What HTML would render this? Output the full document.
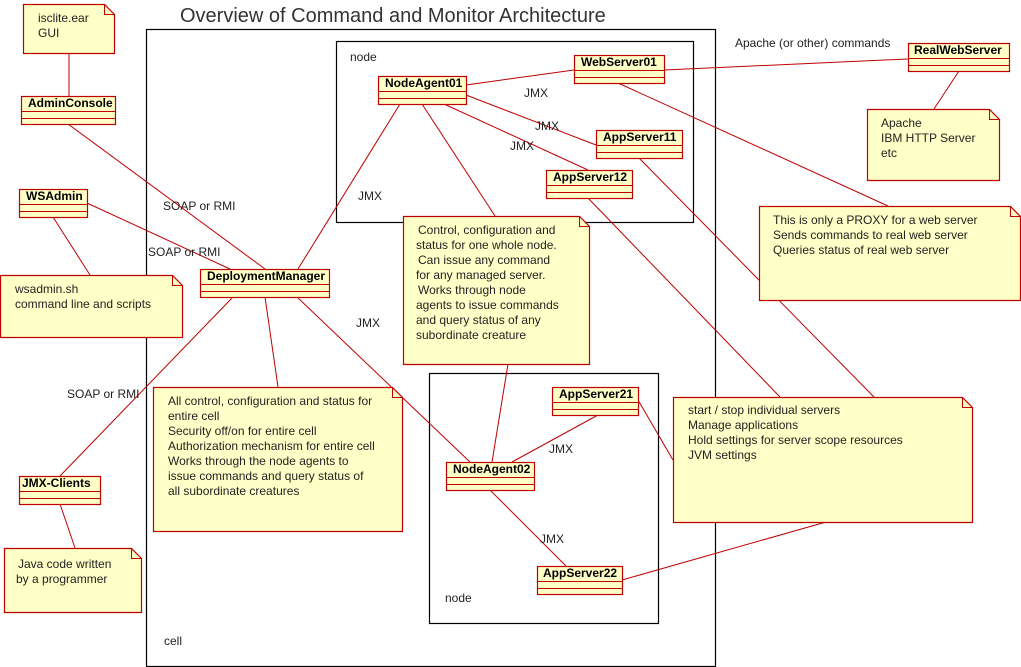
<!DOCTYPE html>
<html><head><style>body{margin:0;background:#fff}svg{display:block}text{font-family:"Liberation Sans",sans-serif;font-size:12px;fill:#222}.b{font-weight:bold;fill:#000}</style></head><body>
<svg width="1021" height="667" viewBox="0 0 1021 667" xmlns="http://www.w3.org/2000/svg">
<text x="180" y="22" style="font-size:20px;fill:#333">Overview of Command and Monitor Architecture</text>
<g fill="none" stroke="#000" stroke-width="1.2">
<rect x="146.5" y="29.5" width="569" height="637"/>
<rect x="336.5" y="41.5" width="357" height="181"/>
<rect x="429.5" y="373.5" width="229" height="250"/>
</g>
<text x="350" y="61">node</text><text x="445" y="602">node</text><text x="164" y="645">cell</text>
<g stroke="#c00000" stroke-width="1" fill="none">
<line x1="69" y1="53" x2="69" y2="96"/><line x1="68" y1="124" x2="265" y2="269"/>
<line x1="87" y1="203" x2="230" y2="269"/><line x1="53" y1="217" x2="90" y2="275"/>
<line x1="233" y1="297" x2="60" y2="476"/><line x1="60" y1="504" x2="75" y2="548"/>
<line x1="265" y1="297" x2="278" y2="387"/><line x1="297" y1="297" x2="470" y2="462"/>
<line x1="298" y1="269" x2="400" y2="104"/><line x1="466" y1="85" x2="574" y2="70"/>
<line x1="466" y1="95" x2="596" y2="145"/><line x1="444" y1="104" x2="588" y2="170"/>
<line x1="422" y1="104" x2="495" y2="216"/><line x1="664" y1="70" x2="908" y2="59"/>
<line x1="618" y1="83" x2="888" y2="206"/><line x1="959" y1="71" x2="934" y2="109"/>
<line x1="639" y1="158" x2="874" y2="397"/><line x1="588" y1="198" x2="780" y2="397"/>
<line x1="508" y1="364" x2="492" y2="462"/><line x1="512" y1="462" x2="598" y2="415"/>
<line x1="490" y1="490" x2="566" y2="566"/><line x1="638" y1="400" x2="673" y2="460"/>
<line x1="622" y1="580" x2="826" y2="522"/>
</g>
<g fill="#ffffc8" stroke="#c00000" stroke-width="1.2">
<path d="M23.5 4.5H104.5L114.5 14.5V53.5H23.5Z"/>
<path d="M0.5 275.5H172.5L182.5 285.5V337.5H0.5Z"/>
<path d="M867.5 109.5H989.5L999.5 119.5V180.5H867.5Z"/>
<path d="M759.5 206.5H1010.5L1020.5 216.5V300.5H759.5Z"/>
<path d="M403.5 216.5H579.5L589.5 226.5V364.5H403.5Z"/>
<path d="M153.5 387.5H392.5L402.5 397.5V531.5H153.5Z"/>
<path d="M673.5 397.5H962.5L972.5 407.5V522.5H673.5Z"/>
<path d="M4.5 548.5H131.5L141.5 558.5V612.5H4.5Z"/>
</g>
<g fill="none" stroke="#c00000" stroke-width="1"><path d="M104.5 4.5V14.5H114.5M172.5 275.5V285.5H182.5M989.5 109.5V119.5H999.5M1010.5 206.5V216.5H1020.5M579.5 216.5V226.5H589.5M392.5 387.5V397.5H402.5M962.5 397.5V407.5H972.5M131.5 548.5V558.5H141.5"/></g>
<g fill="#ffffc8" stroke="#c00000" stroke-width="1.2">
<rect x="21.5" y="96.5" width="94" height="28"/><rect x="19.5" y="189.5" width="68" height="28"/>
<rect x="200.5" y="269.5" width="129" height="28"/><rect x="19.5" y="476.5" width="81" height="28"/>
<rect x="378.5" y="76.5" width="88" height="28"/><rect x="574.5" y="55.5" width="90" height="28"/>
<rect x="596.5" y="130.5" width="86" height="28"/><rect x="546.5" y="170.5" width="86" height="28"/>
<rect x="908.5" y="43.5" width="101" height="28"/><rect x="552.5" y="387.5" width="86" height="28"/>
<rect x="446.5" y="462.5" width="88" height="28"/><rect x="537.5" y="566.5" width="85" height="28"/>
</g>
<g stroke="#c00000" stroke-width="1">
<path d="M21 111.5H115M21 118.5H115M19 204.5H87M19 211.5H87M200 284.5H329M200 291.5H329M19 491.5H100M19 498.5H100M378 91.5H466M378 98.5H466M574 70.5H664M574 77.5H664M596 145.5H682M596 152.5H682M546 185.5H632M546 192.5H632M908 58.5H1009M908 65.5H1009M552 402.5H638M552 409.5H638M446 477.5H534M446 484.5H534M537 581.5H622M537 588.5H622"/>
</g>
<g class="b">
<text class="b" x="28" y="107">AdminConsole</text><text class="b" x="26" y="200">WSAdmin</text>
<text class="b" x="207" y="280">DeploymentManager</text><text class="b" x="22" y="487">JMX-Clients</text>
<text class="b" x="385" y="87">NodeAgent01</text><text class="b" x="581" y="66">WebServer01</text>
<text class="b" x="603" y="141">AppServer11</text><text class="b" x="553" y="181">AppServer12</text>
<text class="b" x="914" y="54">RealWebServer</text><text class="b" x="559" y="398">AppServer21</text>
<text class="b" x="453" y="473">NodeAgent02</text><text class="b" x="543" y="577">AppServer22</text>
</g>
<text x="38" y="22">isclite.ear</text><text x="38" y="37">GUI</text>
<text x="15" y="293">wsadmin.sh</text><text x="15" y="308">command line and scripts</text>
<text x="881" y="127">Apache</text><text x="881" y="142">IBM HTTP Server</text><text x="881" y="157">etc</text>
<text x="773" y="224">This is only a PROXY for a web server</text><text x="773" y="239">Sends commands to real web server</text><text x="773" y="254">Queries status of real web server</text>
<g><text x="418" y="234">Control, configuration and</text><text x="416" y="249">status for one whole node.</text><text x="418" y="264">Can issue any command</text><text x="416" y="279">for any managed server.</text><text x="418" y="294">Works through node</text><text x="416" y="309">agents to issue commands</text><text x="416" y="324">and query status of any</text><text x="416" y="339">subordinate creature</text></g>
<g><text x="168" y="405">All control, configuration and status for</text><text x="168" y="420">entire cell</text><text x="168" y="435">Security off/on for entire cell</text><text x="168" y="450">Authorization mechanism for entire cell</text><text x="168" y="465">Works through the node agents to</text><text x="168" y="480">issue commands and query status of</text><text x="168" y="495">all subordinate creatures</text></g>
<text x="688" y="414">start / stop individual servers</text><text x="688" y="429">Manage applications</text><text x="688" y="444">Hold settings for server scope resources</text><text x="688" y="459">JVM settings</text>
<text x="18" y="568">Java code written</text><text x="16" y="583">by a programmer</text>
<text x="163" y="210">SOAP or RMI</text><text x="148" y="256">SOAP or RMI</text><text x="67" y="398">SOAP or RMI</text>
<text x="358" y="200">JMX</text><text x="524" y="97">JMX</text><text x="535" y="130">JMX</text><text x="510" y="150">JMX</text>
<text x="356" y="327">JMX</text><text x="549" y="453">JMX</text><text x="540" y="543">JMX</text>
<text x="735" y="47">Apache (or other) commands</text>
</svg>
</body></html>
